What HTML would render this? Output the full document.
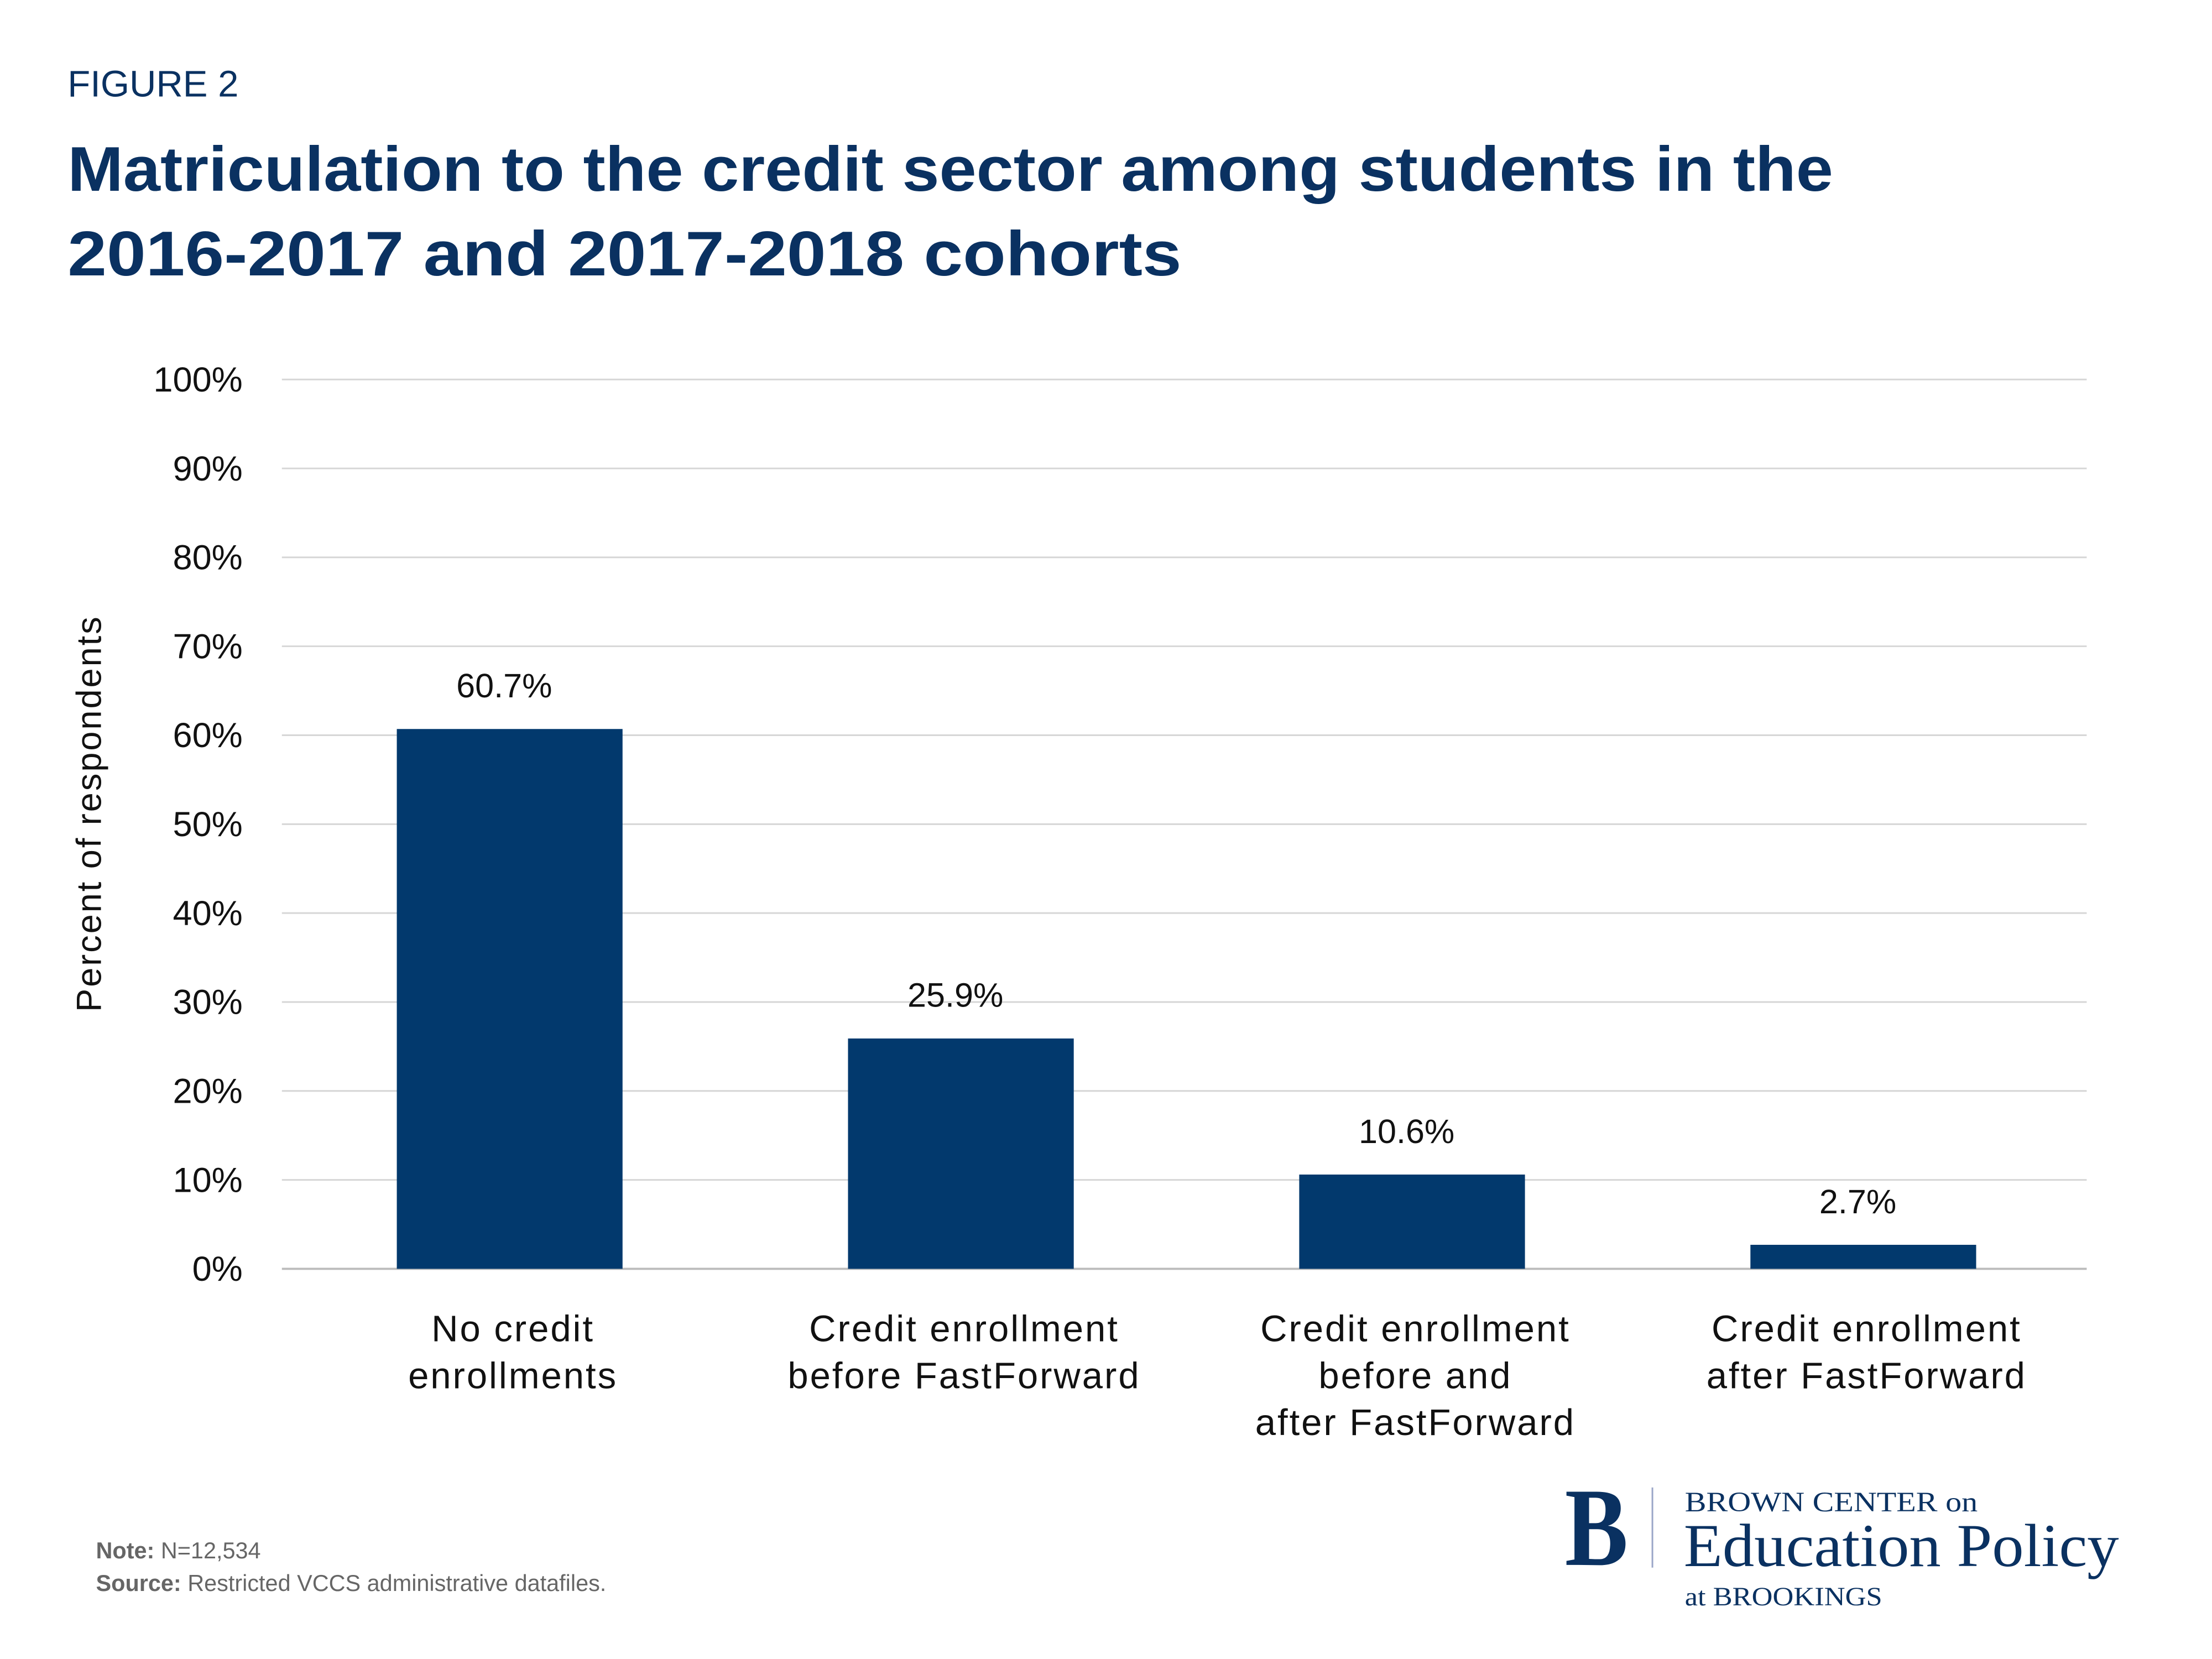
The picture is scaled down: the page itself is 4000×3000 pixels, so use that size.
<!DOCTYPE html>
<html><head><meta charset="utf-8"><style>
html,body{margin:0;padding:0;background:#fff;width:4000px;height:3000px;overflow:hidden}
svg{display:block}
text{font-family:"Liberation Sans",sans-serif}
.serif{font-family:"Liberation Serif",serif}
</style></head><body>
<svg id="chart" width="4000" height="3000" viewBox="0 0 4000 3000" xmlns="http://www.w3.org/2000/svg">
<g transform="scale(0.986)">
<text x="124" y="177" font-size="68" fill="#0a3161">FIGURE 2</text>
<text x="124" y="350" font-size="116" font-weight="bold" fill="#0a3161" textLength="3238" lengthAdjust="spacingAndGlyphs">Matriculation to the credit sector among students in the</text>
<text x="124" y="505" font-size="116" font-weight="bold" fill="#0a3161" textLength="2043" lengthAdjust="spacingAndGlyphs">2016-2017 and 2017-2018 cohorts</text>
<g id="grid"></g>
<g id="bars"></g>
<text transform="translate(185,1492) rotate(-90)" text-anchor="middle" font-size="64" fill="#111" letter-spacing="3">Percent of respondents</text>
<text x="176" y="2858" font-size="42" fill="#666"><tspan font-weight="bold">Note:</tspan> N=12,534</text>
<text x="176" y="2918" font-size="42" fill="#666"><tspan font-weight="bold">Source:</tspan> Restricted VCCS administrative datafiles.</text>
<g fill="#0a3161">
<text class="serif" x="2870" y="2870" font-size="205" font-weight="bold" textLength="116" lengthAdjust="spacingAndGlyphs">B</text>
<rect x="3029" y="2728" width="3" height="147" fill="#9aa6c8"/>
<text class="serif" x="3090" y="2772" font-size="52" textLength="537" lengthAdjust="spacingAndGlyphs">BROWN CENTER on</text>
<text class="serif" x="3088" y="2872" font-size="112" textLength="798" lengthAdjust="spacingAndGlyphs">Education Policy</text>
<text class="serif" x="3090" y="2944" font-size="48" textLength="362" lengthAdjust="spacingAndGlyphs">at BROOKINGS</text>
</g>
</g>
</svg>
<script>
const categories = [["No credit","enrollments"],["Credit enrollment","before FastForward"],["Credit enrollment","before and","after FastForward"],["Credit enrollment","after FastForward"]];
const values = [60.7, 25.9, 10.6, 2.7];
const valueLabels = ["60.7%","25.9%","10.6%","2.7%"];
const yTicks = [0,10,20,30,40,50,60,70,80,90,100];
const NS="http://www.w3.org/2000/svg";
const X0=517, X1=3827, Y0=2327, Y100=696;
const y = v => Y0 - (Y0-Y100)*v/100;
const band=(X1-X0)/categories.length;
const xc = i => X0 + band*(i+0.5);
function mk(tag,attrs,parent){const e=document.createElementNS(NS,tag);for(const k in attrs)e.setAttribute(k,attrs[k]);parent.appendChild(e);return e;}
const grid=document.getElementById('grid'), bars=document.getElementById('bars');
yTicks.forEach(t=>{
  const l=mk('line',{x1:X0,x2:X1,y1:y(t),y2:y(t),stroke:t===0?'#bbb':'#d6d6d6','stroke-width':t===0?4:3},grid);
  
  
  const tx=mk('text',{x:445,y:y(t)+22,'text-anchor':'end','font-size':64,fill:'#111'},grid);
  tx.textContent=t+'%';
  
  
});
values.forEach((v,i)=>{
  const w=414;
  const r=mk('rect',{x:xc(i)-w/2+4,y:y(v),width:w,height:Y0-y(v),fill:'#02396d'},bars);
  
  
  const vl=mk('text',{x:xc(i)-6,y:y(v)-58,'text-anchor':'middle','font-size':62,fill:'#111'},bars);
  vl.textContent=valueLabels[i];
  
  
  categories[i].forEach((line,j)=>{
    const c=mk('text',{x:xc(i)+10,y:2460+j*86,'text-anchor':'middle','font-size':68,fill:'#111','letter-spacing':3},bars);
    c.textContent=line;
    
    
  });
});
</script>
</body></html>
